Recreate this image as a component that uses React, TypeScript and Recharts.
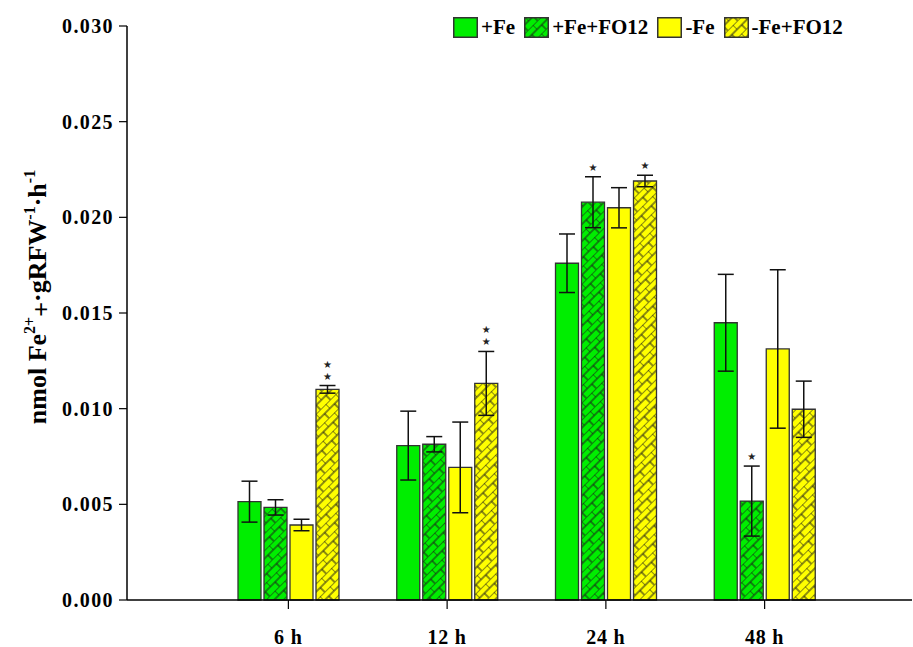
import React from "react";
import { Bar, BarChart, ErrorBar, LabelList, XAxis, YAxis } from "recharts";

// Fe2+ reduction rate (nmol Fe2+ · gRFW-1 · h-1), mean ± SE
const categories = ["6 h", "12 h", "24 h", "48 h"];
const feMean = [0.00514, 0.00807, 0.0176, 0.01449];
const feErr = [0.00107, 0.0018, 0.00153, 0.00253];
const feFoMean = [0.00484, 0.00814, 0.02079, 0.00517];
const feFoErr = [0.0004, 0.0004, 0.00133, 0.00183];
const noFeMean = [0.00392, 0.00693, 0.0205, 0.01312];
const noFeErr = [0.0003, 0.00237, 0.00105, 0.00414];
const noFeFoMean = [0.01101, 0.01132, 0.0219, 0.00997];
const noFeFoErr = [0.0002, 0.00167, 0.0003, 0.00147];
// significance stars per bar
const feStars = [0, 0, 0, 0];
const feFoStars = [0, 0, 1, 1];
const noFeStars = [0, 0, 0, 0];
const noFeFoStars = [2, 2, 1, 0];
const yTicks = [0, 0.005, 0.01, 0.015, 0.02, 0.025, 0.03];

const GREEN = "#00ee00";
const YELLOW = "#ffff00";
const EDGE = "#333";
const FONT = "'Liberation Serif', 'Times New Roman', serif";

const data = categories.map((c, i) => ({
  name: c,
  fe: feMean[i],
  feErr: feErr[i],
  feStars: feStars[i],
  feFo: feFoMean[i],
  feFoErr: feFoErr[i],
  feFoStars: feFoStars[i],
  noFe: noFeMean[i],
  noFeErr: noFeErr[i],
  noFeStars: noFeStars[i],
  noFeFo: noFeFoMean[i],
  noFeFoErr: noFeFoErr[i],
  noFeFoStars: noFeFoStars[i],
}));

const series = [
  { key: "fe", label: "+Fe", fill: GREEN, pat: "" },
  { key: "feFo", label: "+Fe+FO12", fill: GREEN, pat: "Green" },
  { key: "noFe", label: "-Fe", fill: YELLOW, pat: "" },
  { key: "noFeFo", label: "-Fe+FO12", fill: YELLOW, pat: "Yellow" },
];

function Hatch({ id, color }: { id: string; color: string }) {
  return (
    <pattern id={id} width={14} height={12} patternUnits="userSpaceOnUse" patternTransform="rotate(-45)">
      <rect width={14} height={12} fill={color} />
      <path d="M0,0 H14 M0,6 H14 M0,0 V6 M7,6 V12" stroke="#1a1a1a" strokeWidth={1} fill="none" />
    </pattern>
  );
}

// stars drawn above the error bar cap
function starLabel(key: string) {
  return (props: any) => {
    const { x, y, width, height, index } = props;
    const row = data[index] as any;
    const n = row[key + "Stars"];
    if (!n) return null;
    const perUnit = height / row[key];
    const capY = y - row[key + "Err"] * perUnit;
    const cx = x + width / 2;
    return (
      <g>
        {Array.from({ length: n }, (_, k) => (
          <text key={k} x={cx} y={capY - 10 - k * 12 + 4} textAnchor="middle" fontSize={10} fill="#222" fontFamily="DejaVu Sans">
            ★
          </text>
        ))}
      </g>
    );
  };
}

function ChartLegend() {
  return (
    <div
      style={{
        position: "absolute",
        left: 453,
        top: 16,
        display: "flex",
        alignItems: "center",
        fontFamily: FONT,
        fontWeight: "bold",
        fontSize: 21,
        lineHeight: "22px",
      }}
    >
      {series.map((s) => (
        <div key={s.key} style={{ display: "flex", alignItems: "center", marginRight: 9 }}>
          <svg width={25} height={21} style={{ display: "block" }}>
            <defs>
              <Hatch id={"lg" + s.key} color={s.fill} />
            </defs>
            <rect
              x={0.75}
              y={0.75}
              width={23.5}
              height={19.5}
              fill={s.pat ? `url(#lg${s.key})` : s.fill}
              stroke={EDGE}
              strokeWidth={1.5}
            />
          </svg>
          <span style={{ marginLeft: 3 }}>{s.label}</span>
        </div>
      ))}
    </div>
  );
}

function YLabel() {
  return (
    <text transform="translate(46,297) rotate(-90)" textAnchor="middle" fontFamily={FONT} fontWeight="bold" fontSize={26} fill="#000">
      nmol Fe
      <tspan fontSize={16} dy={-11}>2+</tspan>
      <tspan dy={15}>+</tspan>
      <tspan dy={-4}>·gRFW</tspan>
      <tspan fontSize={16} dy={-11}>-1</tspan>
      <tspan dy={11}>·h</tspan>
      <tspan fontSize={16} dy={-11}>-1</tspan>
    </text>
  );
}

export default function App() {
  const yTickStyle = { fontFamily: FONT, fontWeight: "bold", fontSize: 20, letterSpacing: 1.4, fill: "#000" };
  const xTickStyle = { fontFamily: FONT, fontWeight: "bold", fontSize: 20, letterSpacing: 0.8, fill: "#000" };
  return (
    <div style={{ position: "absolute", left: 0, top: 0, width: 913, height: 647, background: "#fff" }}>
      <BarChart
        width={913}
        height={647}
        data={data}
        margin={{ top: 26, right: 1, bottom: 0, left: 0 }}
        barSize={23}
        barGap={3}
      >
        <defs>
          <Hatch id="hatchGreen" color={GREEN} />
          <Hatch id="hatchYellow" color={YELLOW} />
        </defs>
        <XAxis
          dataKey="name"
          padding={{ left: 82, right: 68 }}
          height={47}
          tickSize={9}
          tickMargin={21}
          stroke="#000"
          axisLine={{ stroke: "#000", strokeWidth: 1.5 }}
          tickLine={{ stroke: "#000", strokeWidth: 1.2 }}
          tick={xTickStyle}
        />
        <YAxis
          width={127}
          domain={[0, 0.03]}
          ticks={yTicks}
          tickFormatter={(v: number) => v.toFixed(3)}
          tickSize={8}
          tickMargin={5}
          stroke="#000"
          axisLine={{ stroke: "#000", strokeWidth: 1.5 }}
          tickLine={{ stroke: "#000", strokeWidth: 1.2 }}
          tick={yTickStyle}
          interval={0}
        />
        {series.map((s) => (
          <Bar
            key={s.key}
            dataKey={s.key}
            fill={s.pat ? `url(#hatch${s.pat})` : s.fill}
            stroke={EDGE}
            strokeWidth={1.3}
            isAnimationActive={false}
          >
            <ErrorBar dataKey={s.key + "Err"} width={8} stroke="#111" strokeWidth={1.5} />
            <LabelList dataKey={s.key} content={starLabel(s.key)} />
          </Bar>
        ))}
        <YLabel />
      </BarChart>
      <ChartLegend />
    </div>
  );
}
